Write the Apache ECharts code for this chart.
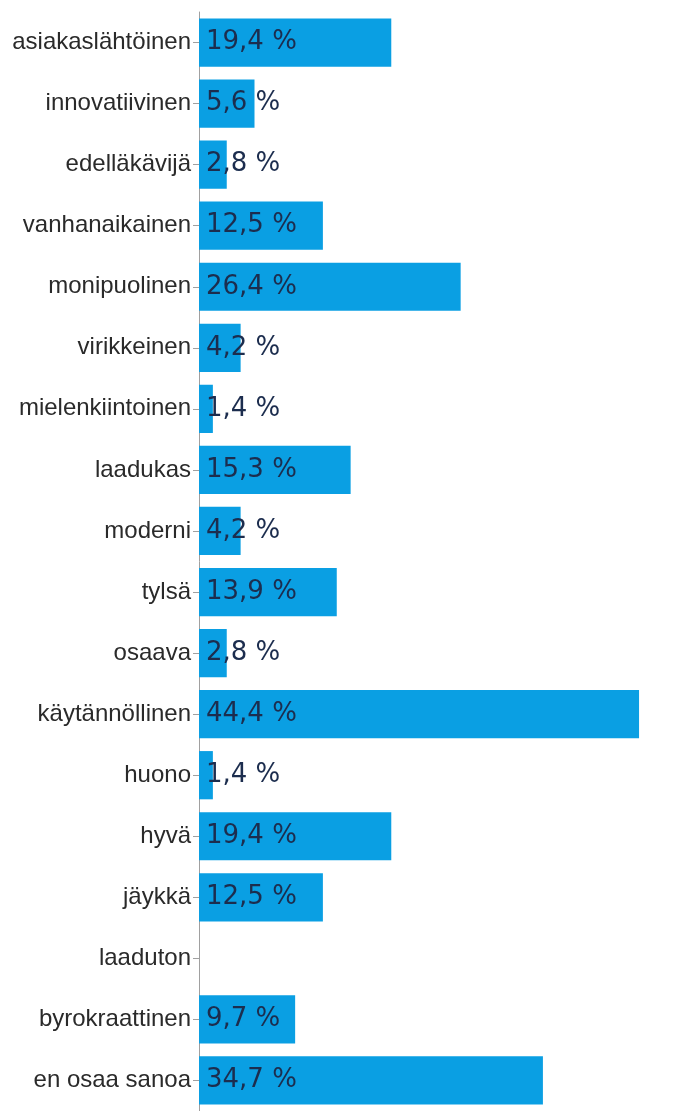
<!DOCTYPE html>
<html><head><meta charset="utf-8">
<script src="https://cdn.jsdelivr.net/npm/echarts@6/dist/echarts.min.js"></script>
<style>html,body{margin:0;padding:0;background:#fff}#c{width:690px;height:1111px}</style>
</head><body><div id="c"></div>
<script>
const categories = ["asiakaslähtöinen","innovatiivinen","edelläkävijä","vanhanaikainen","monipuolinen","virikkeinen","mielenkiintoinen","laadukas","moderni","tylsä","osaava","käytännöllinen","huono","hyvä","jäykkä","laaduton","byrokraattinen","en osaa sanoa"];
const values = [19.4,5.6,2.8,12.5,26.4,4.2,1.4,15.3,4.2,13.9,2.8,44.4,1.4,19.4,12.5,0,9.7,34.7];

const chart = echarts.init(document.getElementById('c'));
chart.setOption({
  animation:false,
  grid:{left:199,top:12,height:1103,right:45,containLabel:false},
  xAxis:{type:'value',min:0,max:45,show:false},
  yAxis:{type:'category',data:categories,inverse:true,
    axisLine:{lineStyle:{color:'#a0a0a0',width:1}},
    axisTick:{show:true,alignWithLabel:true,length:6,lineStyle:{color:'#a0a0a0'}},
    axisLabel:{margin:8,color:'#2a2a2a',fontSize:24,fontFamily:'Liberation Sans, Arial, sans-serif'}
  },
  series:[{type:'bar',data:values,barCategoryGap:'21%',
    itemStyle:{color:'#0a9fe3'},
    label:{show:true,position:'insideLeft',distance:7,
      formatter:p=>p.value>0?p.value.toFixed(1).replace('.',',')+' %':'',
      color:'#1c2d4e',fontSize:26,fontFamily:'DejaVu Sans, sans-serif'}
  }]
});
</script></body></html>
